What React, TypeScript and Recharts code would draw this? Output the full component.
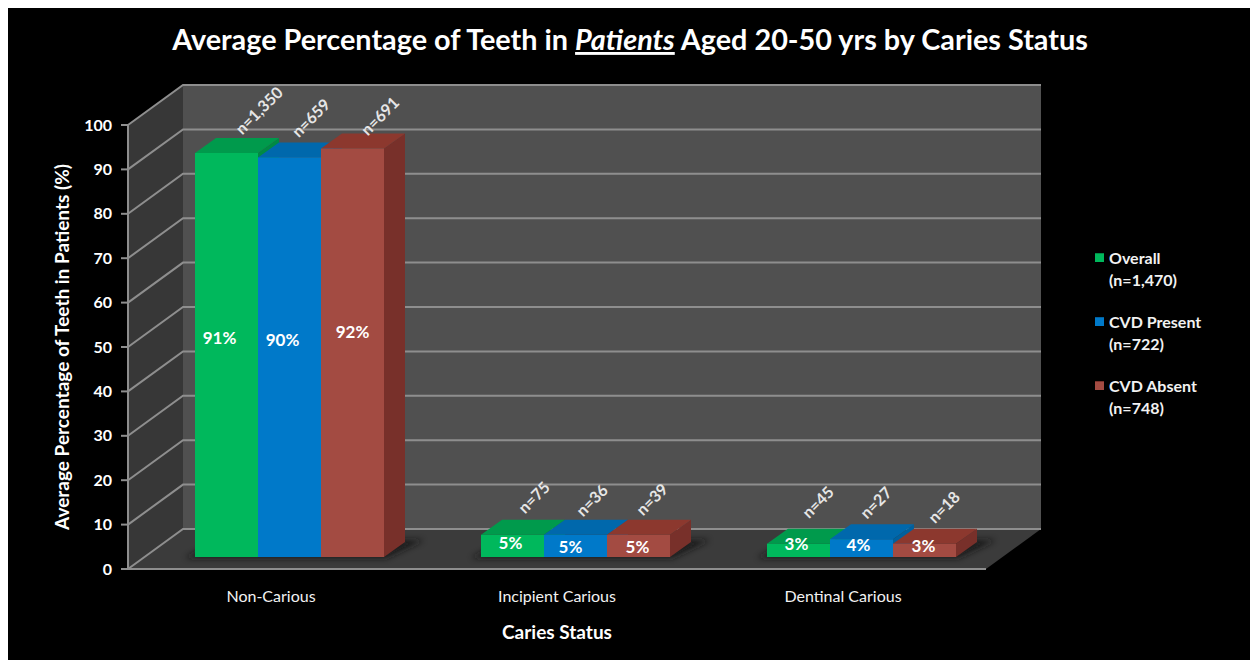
import React from 'react';
import {
  Bar,
  BarChart,
  Label,
  LabelList,
  Legend,
  XAxis,
  YAxis,
  usePlotArea,
} from 'recharts';

const categories = ['Non-Carious', 'Incipient Carious', 'Dentinal Carious'];
const overallValues = [91, 5, 3];
const cvdPresentValues = [90, 5, 4];
const cvdAbsentValues = [92, 5, 3];
const overallCounts = [1350, 75, 45];
const cvdPresentCounts = [659, 36, 27];
const cvdAbsentCounts = [691, 39, 18];
const seriesNames = ['Overall', 'CVD Present', 'CVD Absent'];
const seriesTotals = ['(n=1,470)', '(n=722)', '(n=748)'];
const yTicks = [0, 10, 20, 30, 40, 50, 60, 70, 80, 90, 100];

const chartData = categories.map((name, i) => ({
  name,
  overall: overallValues[i],
  present: cvdPresentValues[i],
  absent: cvdAbsentValues[i],
  overallN: overallCounts[i],
  presentN: cvdPresentCounts[i],
  absentN: cvdAbsentCounts[i],
}));

const FONT = 'Lato, "Open Sans", sans-serif';
const LINE = '#8e8e8e';

// 3D look: wall depth, how far bars sit inside the box, and the bar's own depth
const WALL = { dx: 55, dy: -40 };
const INSET = { dx: 18, dy: -12 };
const DEPTH = { dx: 21, dy: -15 };

const palettes = [
  { front: '#00b85c', top: '#009a4c', side: '#008a44' },
  { front: '#0079c9', top: '#0068ac', side: '#00609e' },
  { front: '#a34b42', top: '#8c382e', side: '#78302a' },
];

// hand-placed labels, [dx, dy] per category
const percentNudges = [
  [[-7, -17], [-2, -3], [-2, -7]],
  [[-7, -18], [-5, 1], [-3, -4]],
  [[0, -21], [-1, 1], [-1, -5]],
];
const countNudges = [
  [[32, -43], [21, -38], [19, -42]],
  [[21, -40], [16, -35], [14, -37]],
  [[27, -33], [13, -36], [19, -37]],
];

const pts = (list: number[][]) => list.map((p) => p.join(',')).join(' ');

// side wall, back wall, floor and the grid lines that run across them
const BoxWalls = () => {
  const plot = usePlotArea();
  if (!plot) return null;
  const { x, y, width, height } = plot;
  const right = x + width;
  const bottom = y + height;
  const bx = x + WALL.dx;
  const by = WALL.dy;
  return (
    <g>
      <polygon points={pts([[bx, y + by], [right + WALL.dx, y + by], [right + WALL.dx, bottom + by], [bx, bottom + by]])} fill="#505050" />
      <polygon points={pts([[x, y], [bx, y + by], [bx, bottom + by], [x, bottom]])} fill="#373737" />
      <polygon points={pts([[x, bottom], [right, bottom], [right + WALL.dx, bottom + by], [bx, bottom + by]])} fill="#3b3b3b" />
      {yTicks.map((t) => {
        const ty = bottom - (height * t) / 100;
        return (
          <g key={t} stroke={LINE} strokeWidth={2} fill="none">
            <polyline points={pts([[x, ty], [bx, ty + by], [right + WALL.dx, ty + by]])} />
          </g>
        );
      })}
    </g>
  );
};

const makeBarShape = (seriesIndex: number) => (props: any) => {
  const { x, y, width, height } = props;
  const c = palettes[seriesIndex];
  const left = x + INSET.dx;
  const top = y + INSET.dy;
  const r = left + width;
  const base = top + height;
  const d = DEPTH;
  return (
    <g>
      {seriesIndex === 0 && (
        <polygon
          points={pts([[left - 10, base + 1], [r + width * 2 + 2, base + 1], [r + width * 2 + 40, base - 17], [left + 25, base - 17]])}
          fill="#141414"
          opacity={0.85}
          filter="url(#floorShadow)"
        />
      )}
      <polygon points={pts([[r, top], [r + d.dx, top + d.dy], [r + d.dx, base + d.dy], [r, base]])} fill={c.side} />
      <polygon points={pts([[left, top], [r, top], [r + d.dx, top + d.dy], [left + d.dx, top + d.dy]])} fill={c.top} />
      <rect x={left} y={top} width={width} height={height} fill={c.front} />
    </g>
  );
};

const makePercentLabel = (seriesIndex: number) => (props: any) => {
  const box = props.viewBox ?? props;
  const [dx, dy] = percentNudges[seriesIndex][props.index];
  return (
    <text
      x={box.x + INSET.dx + box.width / 2 + dx}
      y={box.y + INSET.dy + box.height / 2 + dy}
      fill="#fff"
      fontFamily={FONT}
      fontSize={17}
      fontWeight={700}
      textAnchor="middle"
      dominantBaseline="central"
    >
      {`${props.value}%`}
    </text>
  );
};

const makeCountLabel = (seriesIndex: number) => (props: any) => {
  const box = props.viewBox ?? props;
  const [dx, dy] = countNudges[seriesIndex][props.index];
  const cx = box.x + INSET.dx + box.width / 2 + dx;
  const cy = box.y + INSET.dy + dy;
  return (
    <text
      x={cx}
      y={cy}
      fill="#e6e6e6"
      fontFamily={FONT}
      fontSize={16}
      fontWeight={700}
      textAnchor="middle"
      dominantBaseline="central"
      transform={`rotate(-45 ${cx} ${cy})`}
    >
      {`n=${Number(props.value).toLocaleString('en-US')}`}
    </text>
  );
};

const LegendBlock = ({ payload }: any) => (
  <div style={{ fontFamily: FONT, fontSize: 16, fontWeight: 700, color: '#f2f2f2', lineHeight: '22px' }}>
    {(payload ?? []).map((entry: any, i: number) => (
      <div key={entry.value} style={{ position: 'relative', paddingLeft: 22, marginBottom: i < 2 ? 20 : 0 }}>
        <span
          style={{
            position: 'absolute',
            left: 8,
            top: 6,
            width: 9,
            height: 9,
            background: palettes[i].front,
            borderTop: `1px solid ${palettes[i].side}`,
            boxSizing: 'border-box',
          }}
        />
        <div>{entry.value}</div>
        <div>{seriesTotals[i]}</div>
      </div>
    ))}
  </div>
);

const seriesKeys = ['overall', 'present', 'absent'];

export default function App() {
  return (
    <div style={{ position: 'absolute', left: 8, top: 8, width: 1242, height: 652, background: '#000' }}>
      <BarChart
        width={1242}
        height={652}
        data={chartData}
        margin={{ top: 117, right: 134, bottom: 21, left: 40 }}
        barSize={63}
        barGap={0}
        barCategoryGap={48.5}
      >
        <defs>
          <filter id="floorShadow" x="-20%" y="-60%" width="140%" height="220%">
            <feGaussianBlur stdDeviation="3" />
          </filter>
        </defs>
        <BoxWalls />
        <text
          x={622}
          y={42}
          fill="#fff"
          fontFamily={FONT}
          fontSize={28.8}
          fontWeight={700}
          textAnchor="middle"
        >
          Average Percentage of Teeth in{' '}
          <tspan fontStyle="italic" textDecoration="underline">Patients</tspan> Aged 20-50 yrs by Caries Status
        </text>
        <XAxis
          dataKey="name"
          height={70}
          axisLine={{ stroke: LINE, strokeWidth: 2 }}
          tickLine={false}
          tickMargin={16}
          tick={{ fill: '#f2f2f2', fontFamily: FONT, fontSize: 16, fontWeight: 400 }}
        >
          <Label value="Caries Status" position="center" dy={28} fill="#fff" fontFamily={FONT} fontSize={19} fontWeight={700} />
        </XAxis>
        <YAxis
          width={80}
          domain={[0, 100]}
          ticks={yTicks}
          interval={0}
          axisLine={{ stroke: LINE, strokeWidth: 2 }}
          tickLine={{ stroke: LINE, strokeWidth: 2 }}
          tickSize={7}
          tickMargin={9}
          tick={{ fill: '#fff', fontFamily: FONT, fontSize: 16, fontWeight: 700 }}
        >
          <Label
            value="Average Percentage of Teeth in Patients (%)"
            angle={-90}
            position="center"
            dx={-26}
            fill="#fff"
            fontFamily={FONT}
            fontSize={19}
            fontWeight={700}
          />
        </YAxis>
        {seriesKeys.map((key, i) => (
          <Bar
            key={key}
            dataKey={key}
            name={seriesNames[i]}
            fill={palettes[i].front}
            isAnimationActive={false}
            shape={makeBarShape(i)}
          >
            <LabelList dataKey={key} content={makePercentLabel(i)} />
            <LabelList dataKey={`${key}N`} content={makeCountLabel(i)} />
          </Bar>
        ))}
        <Legend
          layout="vertical"
          align="right"
          verticalAlign="middle"
          width={130}
          itemSorter={null}
          wrapperStyle={{ left: 1079, top: 239, width: 130 }}
          content={<LegendBlock />}
        />
      </BarChart>
    </div>
  );
}
